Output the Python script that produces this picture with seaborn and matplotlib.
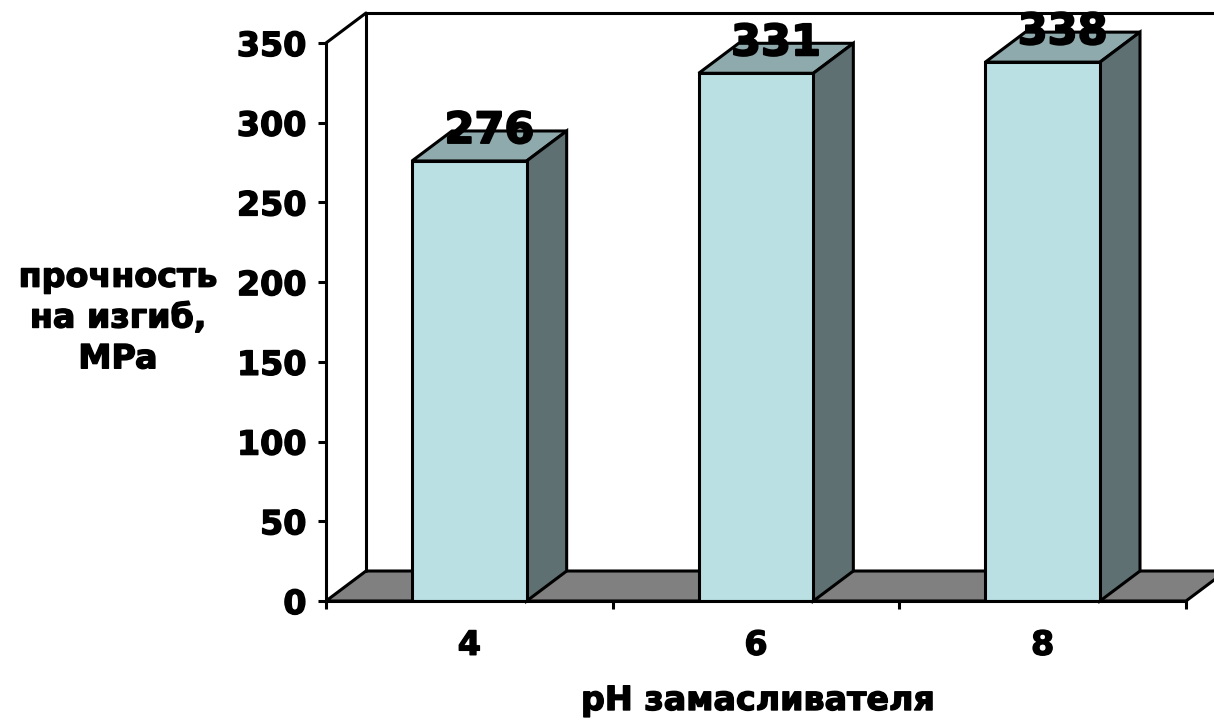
import matplotlib
matplotlib.use("Agg")
import matplotlib.pyplot as plt
import matplotlib.patheffects as pe
from matplotlib.patches import Polygon
import seaborn as sns
import pandas as pd

# Flexural strength vs. sizing-agent pH
ph_labels = ["4", "6", "8"]
strength = [276, 331, 338]
y_ticks = [0, 50, 100, 150, 200, 250, 300, 350]

front_color = "#BBE0E3"
top_color = "#8FAAAC"
side_color = "#5F7073"
floor_color = "#808080"

sns.set_style("white")
plt.rcParams["font.family"] = ["DejaVu Sans"]
plt.rcParams["font.weight"] = "bold"
plt.rcParams["text.color"] = "black"
plt.rcParams["xtick.color"] = "black"
plt.rcParams["ytick.color"] = "black"
plt.rcParams["axes.labelcolor"] = "black"

heavy = [pe.withStroke(linewidth=1.0, foreground="black")]
LW = 2.2

W, H = 1214, 721
fig = plt.figure(figsize=(W / 100, H / 100), dpi=100)
# front plane of the 3-D box
x0_px, x1_px, y0_px, y1_px = 326, 1186, 601, 43
ax = fig.add_axes([x0_px / W, 1 - y0_px / H, (x1_px - x0_px) / W, (y0_px - y1_px) / H])

df = pd.DataFrame({"ph": ph_labels, "value": strength})
sns.barplot(data=df, x="ph", y="value", color=front_color, saturation=1,
            width=0.4, edgecolor="black", linewidth=LW, ax=ax, zorder=3)

ymax = 350
ax.set_xlim(-0.5, 2.5)
ax.set_ylim(0, ymax)

# depth offset of the 3-D effect in data units
dx = 40 / ((x1_px - x0_px) / 3)
dy = 30 / ((y0_px - y1_px) / ymax)

# floor
floor = Polygon([(-0.5, 0), (2.5, 0), (2.5 + dx, dy), (-0.5 + dx, dy)], closed=True,
                facecolor=floor_color, edgecolor="black", linewidth=LW,
                clip_on=False, zorder=1)
ax.add_patch(floor)

# back and side wall outlines
ax.plot([-0.5 + dx, -0.5 + dx, 2.5 + dx], [dy, ymax + dy, ymax + dy],
        color="black", linewidth=LW, clip_on=False, zorder=1.5)
ax.plot([-0.5, -0.5 + dx], [ymax, ymax + dy], color="black", linewidth=LW,
        clip_on=False, zorder=1.5)
ax.plot([2.5 + dx, 2.5 + dx], [dy, ymax + dy], color="black", linewidth=LW,
        clip_on=False, zorder=1.5)

# top and side faces of each bar, plus value labels
for p, val in zip(ax.patches, strength):
    bx, bw, bh = p.get_x(), p.get_width(), p.get_height()
    top = Polygon([(bx, bh), (bx + bw, bh), (bx + bw + dx, bh + dy), (bx + dx, bh + dy)],
                  closed=True, facecolor=top_color, edgecolor="black", linewidth=LW,
                  clip_on=False, zorder=2.5)
    side = Polygon([(bx + bw, 0), (bx + bw + dx, dy), (bx + bw + dx, bh + dy), (bx + bw, bh)],
                   closed=True, facecolor=side_color, edgecolor="black", linewidth=LW,
                   clip_on=False, zorder=2.5)
    ax.add_patch(top)
    ax.add_patch(side)
    ax.text(bx + bw / 2 + dx / 2, bh + dy, f"{val}", ha="center", va="center",
            fontsize=31, fontweight="bold", color="black", zorder=5, clip_on=False,
            path_effects=[pe.withStroke(linewidth=1.4, foreground="black")])

# axes styling
for s in ["top", "right"]:
    ax.spines[s].set_visible(False)
for s in ["left", "bottom"]:
    ax.spines[s].set_linewidth(LW)
    ax.spines[s].set_color("black")
    ax.spines[s].set_zorder(4)

ax.set_yticks(y_ticks)
ax.set_yticklabels([str(t) for t in y_ticks])
ax.tick_params(axis="y", direction="out", length=6, width=LW, pad=8,
               labelsize=24, left=True)
ax.set_xticks([0, 1, 2])
ax.set_xticklabels(ph_labels)
ax.set_xticks([-0.5, 0.5, 1.5, 2.5], minor=True)
ax.tick_params(axis="x", which="major", length=0, pad=20, labelsize=24)
ax.tick_params(axis="x", which="minor", direction="out", length=6, width=LW, bottom=True)
for lbl in ax.get_xticklabels() + ax.get_yticklabels():
    lbl.set_fontweight("bold")
    lbl.set_color("black")
    lbl.set_path_effects(heavy)
ax.set_xlabel("")
ax.set_ylabel("")
ax.grid(False)
ax.set_facecolor("none")

fig.text(118 / W, 1 - 318 / H, "прочность\nна изгиб,\nMPa", ha="center", va="center",
         multialignment="center", fontsize=24, fontweight="bold", linespacing=1.3,
         color="black", path_effects=heavy)
fig.text(758 / W, 1 - 710 / H, "pH замасливателя", ha="center", va="baseline",
         fontsize=24, fontweight="bold", color="black", path_effects=heavy)

fig.savefig("out.png", dpi=100)
